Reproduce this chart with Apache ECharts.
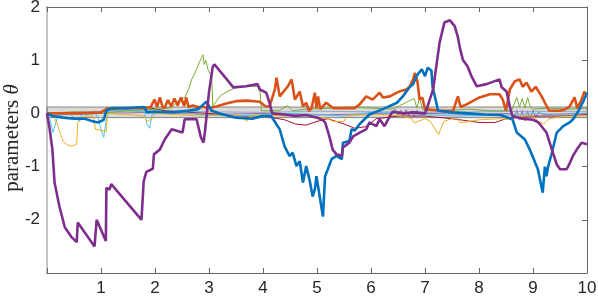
<!DOCTYPE html>
<html><head><meta charset="utf-8">
<script src="https://cdn.jsdelivr.net/npm/echarts@6/dist/echarts.min.js"></script>
<style>html,body{margin:0;padding:0;background:#fff}#c{width:598px;height:298px}</style>
</head><body><div id="c"></div>
<script>
// ---- data ----
const xTicks = [0,1,2,3,4,5,6,7,8,9,10];
const yTicks = [-3,-2,-1,0,1,2];
const bandRange = [-0.08, 0.12];
const yName = 'parameters ';
const yNameSym = 'θ';

const purpleX = [0,0.05,0.1,0.14,0.23,0.33,0.45,0.55,0.57,0.6,0.88,0.92,1.09,1.1,1.16,1.19,1.75,1.79,1.84,1.96,1.98,2.09,2.18,2.31,2.51,2.55,2.77,2.85,2.9,2.93,3.0,3.07,3.1,3.33,3.45,3.69,3.9,3.94,4.06,4.12,4.17,4.4,4.6,4.8,5.0,5.1,5.15,5.22,5.29,5.36,5.46,5.48,5.6,5.67,5.79,5.91,5.97,6.1,6.16,6.25,6.35,6.4,6.6,6.8,7.0,7.03,7.15,7.27,7.36,7.46,7.55,7.61,7.64,7.7,7.79,7.86,7.96,8.14,8.38,8.42,8.51,8.57,8.62,8.8,9.0,9.1,9.25,9.35,9.44,9.5,9.62,9.65,9.74,9.81,9.9,10];
const purpleY = [0,-0.3,-0.68,-1.3,-1.75,-2.14,-2.32,-2.42,-2.05,-2.08,-2.5,-2.0,-2.4,-1.4,-1.43,-1.33,-2.0,-1.28,-1.1,-1.04,-0.77,-0.68,-0.49,-0.3,-0.36,-0.11,-0.11,-0.45,-0.55,-0.3,0.4,0.88,0.92,0.64,0.49,0.51,0.55,0.45,0.39,0.2,0.0,-0.02,-0.05,-0.03,-0.08,-0.12,-0.17,-0.4,-0.68,-0.77,-0.8,-0.64,-0.55,-0.43,-0.36,-0.3,-0.17,-0.24,-0.11,-0.24,-0.05,0.03,0.0,0.02,0.0,0.08,0.45,1.33,1.71,1.75,1.64,1.43,1.26,1.01,0.88,0.7,0.51,0.55,0.64,0.49,0.41,0.13,-0.05,-0.1,-0.12,-0.17,-0.36,-0.68,-0.96,-1.05,-1.05,-1.0,-0.8,-0.68,-0.55,-0.58];

const blueX = [0,0.1,0.3,0.5,0.7,0.85,0.95,1.05,1.1,1.2,1.5,1.8,1.85,2.0,2.3,2.6,2.8,2.95,3.05,3.2,3.5,3.8,4.0,4.15,4.31,4.4,4.49,4.55,4.62,4.68,4.74,4.8,4.86,4.92,4.96,4.99,5.11,5.15,5.2,5.27,5.36,5.46,5.48,5.6,5.64,5.7,5.79,5.88,5.97,6.22,6.48,6.59,6.72,6.78,6.84,6.94,7.0,7.05,7.12,7.14,7.21,7.24,7.5,7.8,8.1,8.4,8.62,8.7,8.85,8.94,9.09,9.18,9.22,9.25,9.28,9.35,9.44,9.56,9.68,9.75,9.86,9.92,10];
const blueY = [0,-0.05,-0.08,-0.1,-0.1,-0.15,-0.17,-0.12,0.05,0.1,0.1,0.12,0.02,0.03,0.02,0.05,0.08,0.22,0.05,0.0,-0.08,-0.1,-0.05,-0.05,-0.3,-0.62,-0.8,-0.74,-0.99,-0.9,-1.3,-0.99,-1.24,-1.56,-1.43,-1.18,-1.94,-1.18,-1.05,-0.86,-0.8,-0.86,-0.55,-0.52,-0.3,-0.32,-0.2,-0.11,-0.02,0.08,0.2,0.32,0.5,0.55,0.7,0.83,0.7,0.86,0.8,0.5,0.2,0.05,0.02,0.0,-0.02,-0.03,-0.11,-0.36,-0.49,-0.68,-1.05,-1.49,-1.0,-1.18,-1.0,-0.74,-0.36,-0.24,-0.17,-0.1,0.08,0.2,0.39];

const orangeX = [0,0.5,1.0,1.1,1.5,1.8,1.92,1.99,2.04,2.09,2.14,2.18,2.24,2.3,2.36,2.42,2.48,2.54,2.58,2.62,2.7,2.8,2.9,3.0,3.14,3.3,3.5,3.7,3.94,4.05,4.12,4.22,4.25,4.31,4.46,4.53,4.59,4.68,4.74,4.8,4.85,4.9,4.96,4.99,5.02,5.06,5.17,5.3,5.5,5.7,5.79,5.91,6.03,6.16,6.22,6.35,6.48,6.55,6.66,6.72,6.78,6.81,6.86,6.9,6.95,7.0,7.3,7.52,7.61,7.66,7.77,8.01,8.2,8.38,8.44,8.5,8.57,8.66,8.75,8.81,8.88,8.97,9.05,9.16,9.22,9.3,9.5,9.6,9.68,9.77,9.82,9.9,9.95,10];
const orangeY = [0,0.0,0.02,0.08,0.1,0.1,0.12,0.26,0.12,0.3,0.12,0.11,0.25,0.13,0.28,0.15,0.3,0.14,0.3,0.12,0.15,0.12,0.12,0.1,0.13,0.18,0.23,0.24,0.22,0.13,0.13,0.45,0.67,0.32,0.51,0.64,0.26,0.41,0.13,0.2,0.05,0.1,0.39,0.1,0.32,0.08,0.2,0.1,0.1,0.1,0.17,0.32,0.26,0.39,0.3,0.32,0.39,0.42,0.45,0.51,0.64,0.76,0.6,0.26,0.3,0.08,0.05,0.05,0.32,0.12,0.17,0.3,0.36,0.36,0.26,0.05,0.45,0.6,0.64,0.5,0.58,0.41,0.5,0.32,0.2,0.05,0.05,0.08,0.13,0.3,0.1,0.26,0.41,0.32];

const greenX = [0,0.5,1.0,1.5,2.0,2.3,2.46,2.55,2.62,2.68,2.74,2.83,2.89,2.91,2.94,2.98,3.05,3.07,3.2,3.33,3.51,3.75,3.94,3.97,4.3,4.45,4.55,4.8,5.3,5.6,6.0,6.4,6.8,6.85,6.9,6.95,7.0,7.4,7.8,8.2,8.6,8.7,8.75,8.8,8.85,8.9,8.95,9.0,9.3,9.7,10];
const greenY = [0,0.03,0.0,0.05,0.08,0.1,0.26,0.3,0.45,0.64,0.76,0.98,1.1,0.92,1.0,0.83,0.7,0.13,0.32,0.41,0.49,0.51,0.51,0.05,0.05,0.15,0.05,0.08,0.1,0.12,0.1,0.08,0.28,0.1,0.3,0.08,0.05,0.05,0.08,0.05,0.05,0.3,0.12,0.28,0.1,0.3,0.12,0.08,0.1,0.08,0.1];

const yellowX = [0,0.1,0.18,0.24,0.3,0.36,0.45,0.55,0.57,0.7,0.85,0.88,0.9,1.1,1.12,1.5,1.8,1.85,1.95,2.0,2.4,2.8,3.2,3.6,3.7,3.75,4.0,4.4,4.8,5.2,5.3,5.5,5.55,5.8,6.2,6.6,6.75,6.8,7.0,7.1,7.25,7.35,7.5,7.6,7.65,8.0,8.4,8.6,8.7,9.0,9.1,9.2,9.3,9.6,10];
const yellowY = [0,-0.02,-0.17,-0.36,-0.53,-0.58,-0.62,-0.58,-0.17,-0.05,-0.05,-0.2,-0.3,-0.34,0.0,-0.02,-0.05,-0.15,-0.1,0.0,-0.02,-0.05,-0.03,-0.05,-0.15,-0.05,-0.03,-0.05,-0.02,-0.1,-0.15,-0.15,-0.05,-0.03,-0.02,-0.05,-0.1,-0.18,-0.1,-0.15,-0.4,-0.15,-0.1,-0.1,-0.18,-0.12,-0.1,-0.12,-0.05,-0.05,-0.15,-0.2,-0.1,-0.05,-0.05];

const lightBlueX = [0,0.05,0.11,0.2,0.4,0.6,0.65,0.9,0.95,1.0,1.05,1.1,1.15,1.5,1.8,1.85,1.9,1.95,2.3,2.7,3.0,3.5,4.0,4.5,5.0,5.5,6.0,6.5,7.0,7.5,8.0,8.5,9.0,9.5,10];
const lightBlueY = [0,-0.1,-0.36,-0.05,0.0,-0.15,-0.02,0.0,-0.1,-0.3,-0.45,-0.1,0.05,0.05,0.03,-0.2,-0.28,0.0,0.02,0.0,-0.03,-0.05,-0.02,0.0,-0.02,-0.05,0.02,0.0,-0.02,-0.05,-0.04,-0.03,0.0,-0.02,0.0];

const redX = [0,0.5,1.0,1.1,1.5,1.8,2.2,2.6,3.0,3.5,4.0,4.4,4.6,4.8,5.0,5.2,5.5,5.7,5.9,6.1,6.5,7.0,7.5,8.0,8.3,8.5,9.0,9.5,10];
const redY = [0,0.0,0.0,0.1,0.1,0.12,0.05,0.02,0.0,-0.05,-0.05,-0.12,-0.2,-0.22,-0.15,-0.1,-0.2,-0.28,-0.25,-0.1,-0.05,-0.05,-0.1,-0.17,-0.17,-0.1,-0.05,-0.05,-0.02];

const mauveX = [0,0.3,0.6,1.0,2.0,3.0,4.0,5.0,6.4,6.45,6.5,6.55,6.6,6.65,6.7,6.75,6.8,6.85,6.9,7.0,8.0,8.6,8.65,8.7,8.75,8.8,8.85,8.9,8.95,9.0,9.05,9.1,9.2,10];
const mauveY = [0,0.02,-0.02,0.0,0.02,-0.02,0.0,-0.03,0.0,0.08,-0.05,0.06,-0.06,0.07,-0.04,0.05,-0.06,0.06,-0.03,0.0,-0.02,0.0,-0.1,0.06,-0.12,0.05,-0.14,0.04,-0.1,0.06,-0.08,0.02,-0.02,0.0];

const steelX = [0,1,2,3,4,5,6,7,8,9,10];
const steelY = [0,0.04,0.05,0.03,0.02,0.04,0.03,0.02,0.03,0.04,0.03];

function pairs(xs, ys){ return xs.map((x,i)=>[x, ys[i]]); }

const chart = echarts.init(document.getElementById('c'));
function line(name, xs, ys, color, width, z){
  return {name, type:'line', data:pairs(xs,ys), showSymbol:false, symbol:'none',
    lineStyle:{color, width}, itemStyle:{color}, z, animation:false};
}
const series = [
  line('steel', steelX, steelY, '#8fa8c8', 1, 2),
  line('mauve', mauveX, mauveY, '#9a6fb0', 1, 2),
  line('red', redX, redY, '#A2142F', 1, 2),
  line('lightblue', lightBlueX, lightBlueY, '#4DBEEE', 1, 2),
  line('yellow', yellowX, yellowY, '#EDB120', 1, 2),
  line('green', greenX, greenY, '#77AC30', 1, 2),
  line('orange', orangeX, orangeY, '#D95319', 2.6, 3),
  line('blue', blueX, blueY, '#0072BD', 2.6, 3),
  line('purple', purpleX, purpleY, '#7E2F8E', 2.6, 3),
  {type:'line', data:[], z:10, silent:true,
   markArea:{silent:true, itemStyle:{color:'rgba(150,150,150,0.35)', borderColor:'rgba(110,110,110,0.8)', borderWidth:1},
     data:[[{yAxis:bandRange[0]},{yAxis:bandRange[1]}]]}}
];

const labelFont = {fontFamily:'Liberation Sans, Arial, sans-serif', fontSize:17, color:'#262626'};
chart.setOption({
  animation:false,
  grid:{left:47, right:11, top:7, bottom:25, containLabel:false, outerBoundsMode:'none'},
  xAxis:[
    {type:'value', min:xTicks[0], max:xTicks[xTicks.length-1], interval:1, position:'bottom',
     axisLine:{show:true, onZero:false, lineStyle:{color:'#666', width:1}},
     axisTick:{show:true, inside:true, length:5, lineStyle:{color:'#666'}},
     axisLabel:Object.assign({margin:7, formatter:v=> v===0?'':String(v)}, labelFont),
     splitLine:{show:false}},
    {type:'value', min:0, max:10, interval:1, position:'top',
     axisLine:{show:true, onZero:false, lineStyle:{color:'#666', width:1}},
     axisTick:{show:true, inside:true, length:5, lineStyle:{color:'#666'}},
     axisLabel:{show:false}, splitLine:{show:false}}
  ],
  yAxis:[
    {type:'value', min:yTicks[0], max:yTicks[yTicks.length-1], interval:1, position:'left',
     axisLine:{show:true, onZero:false, lineStyle:{color:'#c4c4c4', width:2}},
     axisTick:{show:false},
     axisLabel:Object.assign({margin:7, formatter:v=> v===-3?'':String(v)}, labelFont),
     splitLine:{show:false}},
    {type:'value', min:-3, max:2, interval:1, position:'right',
     axisLine:{show:true, onZero:false, lineStyle:{color:'#666', width:1}},
     axisTick:{show:true, inside:true, length:5, lineStyle:{color:'#666'}},
     axisLabel:{show:false}, splitLine:{show:false}}
  ],
  graphic:[{type:'text', x:12, y:138, rotation:Math.PI/2, silent:true,
    style:{text:'{a|'+yName+'}{b|'+yNameSym+'}', align:'center', verticalAlign:'middle',
      rich:{a:{fontFamily:'Liberation Serif, serif', fontSize:21, fill:'#262626'},
            b:{fontFamily:'Liberation Serif, serif', fontSize:21, fontStyle:'italic', fill:'#262626'}}}}],
  series
});
</script></body></html>
